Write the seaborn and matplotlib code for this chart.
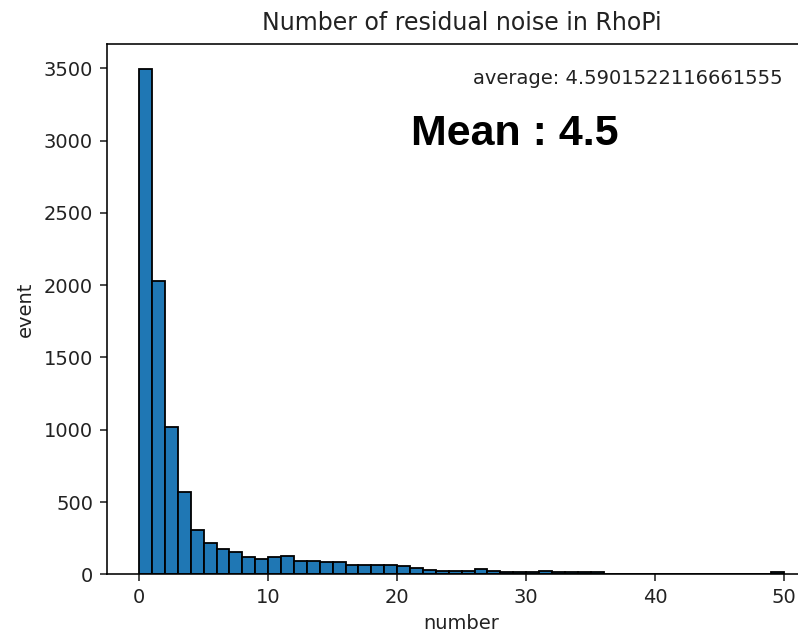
import numpy as np
import pandas as pd
import matplotlib
matplotlib.use("Agg")
import matplotlib.pyplot as plt
import seaborn as sns

# bin left edges (width 1) and event counts
bin_left = list(range(0, 50))
counts = [3494, 2028, 1021, 567, 306, 214, 177, 154, 118, 106,
          118, 127, 94, 94, 82, 84, 66, 66, 66, 66,
          56, 42, 32, 22, 22, 22, 36, 23, 14, 14,
          14, 24, 14, 14, 14, 14, 4, 4, 4, 4,
          4, 4, 4, 4, 4, 4, 4, 4, 0, 18]

title = "Number of residual noise in RhoPi"
avg_label = "average: 4.5901522116661555"
mean_label = "Mean : 4.5"

df = pd.DataFrame({"number": [b + 0.5 for b in bin_left], "event": counts})

plt.rcParams["font.family"] = ["DejaVu Sans"]
plt.rcParams["axes.linewidth"] = 1.15
fig = plt.figure(figsize=(7.98, 6.33), dpi=100)
ax = fig.add_axes([0.134, 0.0927, 0.889, 0.838])

sns.histplot(data=df, x="number", weights="event", binwidth=1, binrange=(0, 50),
             color="#1f77b4", edgecolor="black", linewidth=1.3, alpha=1, ax=ax)

ax.set_xlim(-2.5, 52.5)
ax.set_ylim(0, 3669)
ax.set_xticks([0, 10, 20, 30, 40, 50])
ax.set_yticks([0, 500, 1000, 1500, 2000, 2500, 3000, 3500])
ax.tick_params(labelsize=14, length=5, width=1.15, pad=5, colors="#222222")
ax.set_xlabel("number", fontsize=14, color="#222222", labelpad=5)
ax.set_ylabel("event", fontsize=14, color="#222222", labelpad=6)
ax.set_title(title, fontsize=17, pad=10, color="#222222")
ax.grid(False)

fig.text(783 / 798, 1 - 78 / 633, avg_label, ha="right", va="center",
         fontsize=14, color="#222222")
fig.text(411 / 798, 1 - 134 / 633, mean_label, ha="left", va="center",
         fontsize=31, fontweight="bold", family=["Liberation Sans"], color="black")

fig.savefig("out.png", dpi=100)
